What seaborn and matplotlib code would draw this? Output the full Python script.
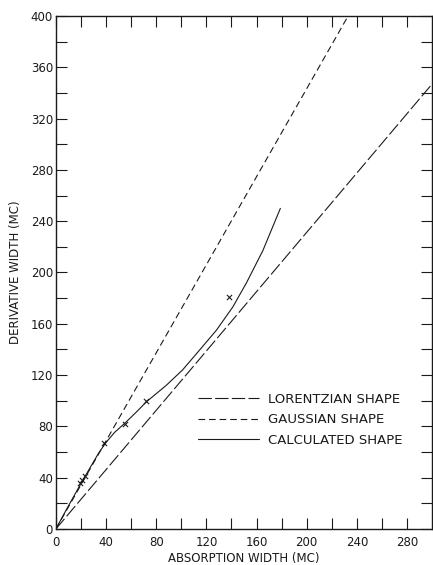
import numpy as np
import pandas as pd
import matplotlib
matplotlib.use("Agg")
import matplotlib.pyplot as plt
import seaborn as sns

# Reference line shapes: derivative width = ratio * absorption width
lorentz_x = [0, 300]
lorentz_y = [0, 347]
gauss_x = [0, 233]
gauss_y = [0, 400]

# Calculated shape curve
calc_x = [0, 10, 20, 28, 34, 40, 47, 55, 64, 72, 88, 101, 115, 128, 141, 152, 165, 179]
calc_y = [0, 18, 35.5, 49, 59, 67.5, 75.5, 82.5, 91, 99, 112, 124, 140, 155, 173, 192, 217, 250]

# Measured points
meas_x = [19, 21, 23, 38, 55, 72, 138]
meas_y = [36, 38, 41, 67, 82, 100, 181]

x_ticks = [0, 40, 80, 120, 160, 200, 240, 280]
y_ticks = [0, 40, 80, 120, 160, 200, 240, 280, 320, 360, 400]

sns.set_style("ticks")
plt.rcParams["font.family"] = ["DejaVu Sans"]

fig = plt.figure(figsize=(4.33, 5.65), dpi=100)
ax = fig.add_axes([0.129, 0.0637, 0.869, 0.908])

ink = "#1a1a1a"
lw = 0.8

sns.lineplot(x=lorentz_x, y=lorentz_y, ax=ax, color=ink, lw=lw,
             label="LORENTZIAN SHAPE")
ax.lines[-1].set_dashes([12, 3])
sns.lineplot(x=gauss_x, y=gauss_y, ax=ax, color=ink, lw=lw,
             label="GAUSSIAN SHAPE")
ax.lines[-1].set_dashes([6, 3.5])
sns.lineplot(x=calc_x, y=calc_y, ax=ax, color=ink, lw=lw,
             label="CALCULATED SHAPE", sort=False)
sns.scatterplot(x=meas_x, y=meas_y, ax=ax, marker="x", color=ink,
                s=14, linewidth=0.8, legend=False)

ax.set_xlim(0, 300)
ax.set_ylim(0, 400)
ax.set_xticks(x_ticks)
ax.set_yticks(y_ticks)
ax.set_xticks(np.arange(20, 300, 40), minor=True)
ax.set_yticks(np.arange(20, 400, 40), minor=True)
for a in ("x", "y"):
    ax.tick_params(axis=a, which="both", direction="in", length=8, width=0.8,
                   color=ink, labelsize=8.5, labelcolor=ink,
                   top=True, right=True)
ax.tick_params(axis="y", pad=2)
ax.tick_params(axis="x", pad=5)
ax.set_xticklabels([str(v) for v in x_ticks])
ax.set_yticklabels([str(v) for v in y_ticks])

for sp in ax.spines.values():
    sp.set_visible(True)
    sp.set_color(ink)
    sp.set_linewidth(1.0)

ax.set_xlabel("ABSORPTION WIDTH (MC)", fontsize=8.5, color=ink, labelpad=2)
ax.set_ylabel("DERIVATIVE WIDTH (MC)", fontsize=8.5, color=ink, labelpad=6)

leg = ax.legend(loc="upper left", bbox_to_anchor=(0.36, 0.278), frameon=False,
                fontsize=9.5, handlelength=4.6, handletextpad=0.7,
                labelspacing=0.55, borderpad=0)
for t in leg.get_texts():
    t.set_color(ink)

fig.savefig("out.png", dpi=100, facecolor="white")
